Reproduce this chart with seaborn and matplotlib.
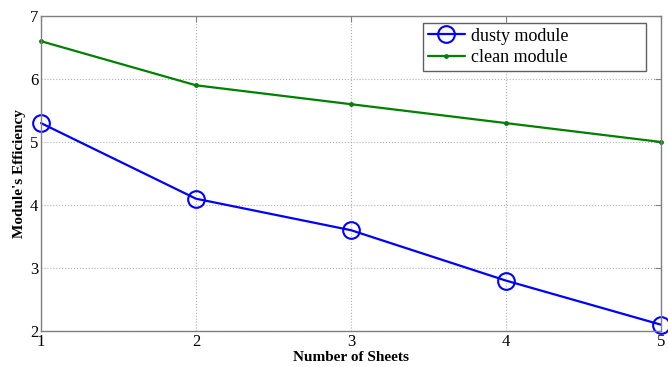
import matplotlib
matplotlib.use("Agg")
import matplotlib.pyplot as plt
import seaborn as sns
import pandas as pd

sheets = [1, 2, 3, 4, 5]
dusty = [5.3, 4.1, 3.6, 2.8, 2.1]
clean = [6.6, 5.9, 5.6, 5.3, 5.0]
series_names = ["dusty module", "clean module"]
xlabel = "Number of Sheets"
ylabel = "Module's Efficiency"

sns.set_style("white")
plt.rcParams['font.family'] = ['Liberation Serif', 'DejaVu Serif']
plt.rcParams['text.color'] = 'black'
plt.rcParams['axes.labelcolor'] = 'black'
plt.rcParams['xtick.color'] = 'black'
plt.rcParams['ytick.color'] = 'black'

fig = plt.figure(figsize=(6.68, 3.67), dpi=100)
ax = fig.add_axes([41/668, 1 - 331/367, 620/668, 315/367])

df_d = pd.DataFrame({"x": sheets, "y": dusty})
df_c = pd.DataFrame({"x": sheets, "y": clean})

sns.lineplot(data=df_d, x="x", y="y", ax=ax, color=(0, 0, 1), linewidth=1.6,
             marker="o", markersize=12, markerfacecolor="none",
             markeredgecolor=(0, 0, 1), markeredgewidth=1.5,
             label=series_names[0], clip_on=False)
sns.lineplot(data=df_c, x="x", y="y", ax=ax, color=(0, 0.5, 0), linewidth=1.6,
             marker="o", markersize=3.5, markeredgewidth=0,
             label=series_names[1], clip_on=False)

ax.set_xlim(1, 5)
ax.set_ylim(2, 7)
ax.set_xticks(sheets)
ax.set_yticks([2, 3, 4, 5, 6, 7])
ax.grid(True, linestyle=":", color="#b0b0b0", linewidth=0.8)
for s in ax.spines.values():
    s.set_color("#808080")
    s.set_linewidth(1.0)
ax.tick_params(direction="in", length=4, color="#808080", labelcolor="black",
               labelsize=12, top=True, right=True, pad=2)
ax.set_xlabel(xlabel, fontsize=11, fontweight="bold", labelpad=1, color="black")
ax.set_ylabel(ylabel, fontsize=11, fontweight="bold", labelpad=3, color="black")

x0 = (423 - 41) / 620
x1 = (646 - 41) / 620
ytop = (331 - 23) / 315
leg = ax.legend(loc="upper left", bbox_to_anchor=(x0, ytop, x1 - x0, 0.0),
                mode="expand", borderaxespad=0, fontsize=13, frameon=True,
                fancybox=False, edgecolor="#606060", framealpha=1,
                handlelength=2.1, handletextpad=0.3, labelspacing=0.25,
                borderpad=0.25)
leg.get_frame().set_linewidth(1.0)
for t in leg.get_texts():
    t.set_color("black")

fig.savefig("out.png", dpi=100)
